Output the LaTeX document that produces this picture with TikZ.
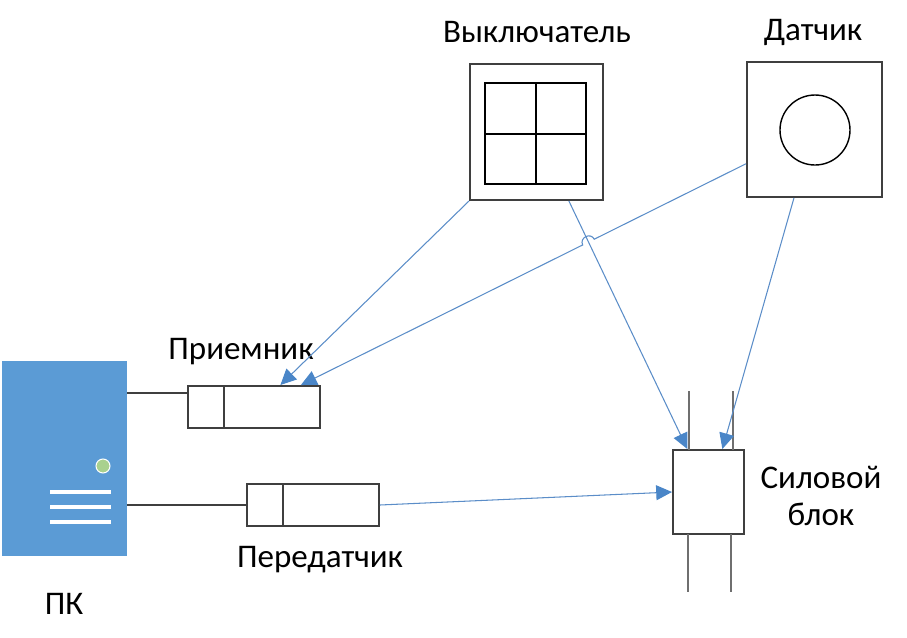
\documentclass[tikz,border=0pt]{standalone}
\usepackage{fontspec}
\setmainfont{Carlito}
\usetikzlibrary{arrows.meta,calc}
\definecolor{pcblue}{HTML}{5B9BD5}
\definecolor{conn}{HTML}{5B8DC8}
\definecolor{headc}{HTML}{4A86C8}
\definecolor{outl}{HTML}{3F3F3F}
\definecolor{ledgreen}{HTML}{A9D18E}
\definecolor{wire}{HTML}{6F6F6F}
\tikzset{
  box/.style={draw=outl,line width=1.1pt,rectangle,inner sep=0pt,minimum width=#1},
  lbl/.style={font=\fontsize{18.8}{22}\selectfont,text=black,inner sep=0pt},
  cn/.style={draw=conn,line width=0.6pt,-{Triangle[length=9pt,width=8.5pt,color=headc]},fill=none},
  wr/.style={draw=wire,line width=1.1pt},
}
\begin{document}
\begin{tikzpicture}[x=0.02cm,y=-0.02cm]
\useasboundingbox (0,0) rectangle (907,637);
% PC
\node[fill=pcblue,minimum width=125*0.02cm,minimum height=195*0.02cm,inner sep=0pt] (pc) at (64.5,458.5) {};
\node[circle,fill=ledgreen,draw=white,line width=0.6pt,minimum size=14*0.02cm,inner sep=0pt] (led) at (103,466) {};
\foreach \yy in {492,507,522} \draw[white,line width=2.3pt] (50,\yy) -- (111,\yy);
\node[lbl] (pcl) at (64,604) {ПК};
% receiver
\node[box=132*0.02cm,minimum height=42*0.02cm] (rx) at (254,407) {};
\draw[outl,line width=1.1pt] (224,386) -- (224,428);
\node[lbl] (rxl) at (241,352) {Приемник};
% transmitter
\node[box=132*0.02cm,minimum height=42*0.02cm] (tx) at (313,505) {};
\draw[outl,line width=1.1pt] (283,484) -- (283,526);
\node[lbl] (txl) at (320,560) {Передатчик};
% PC links
\coordinate (rxa) at (188,393);
\draw[outl,line width=0.8pt] (pc.east |- rxa) -- (rxa);
\draw[outl,line width=0.8pt] (pc.east |- tx.west) -- (tx.west);
% switch
\node[box=133*0.02cm,minimum height=136*0.02cm] (sw) at (536.5,132) {};
\draw[black,line width=1.1pt] (485,83) rectangle (586,184);
\draw[black,line width=1.1pt] (536,83) -- (536,184) (485,134) -- (586,134);
\node[lbl] (swl) at (537,32) {Выключатель};
% sensor
\node[box=135*0.02cm,minimum height=135*0.02cm] (sens) at (814.5,129.5) {};
\node[circle,draw=black,line width=0.8pt,minimum size=70*0.02cm,inner sep=0pt] (circ) at (815,130) {};
\node[lbl] (sensl) at (813,32) {Датчик};
% power block
\node[box=71*0.02cm,minimum height=84*0.02cm] (pw) at (708.5,492) {};
\draw[wr] (689,391) -- (689,450) (733,391) -- (733,450);
\draw[wr] (688,534) -- (688,592) (731,534) -- (731,592);
\node[lbl,align=center] (pwl) at (821,496) {Силовой\\[-1pt]блок};
% connectors
\coordinate (rx1) at ($(rx.north west)!0.697!(rx.north east)$);
\coordinate (rx2) at ($(rx.north west)!0.85!(rx.north east)$);
\coordinate (pw1) at ($(pw.north west)!0.21!(pw.north east)$);
\coordinate (pw2) at ($(pw.north west)!0.69!(pw.north east)$);
\coordinate (sw1) at ($(sw.south west)!0.74!(sw.south east)$);
\coordinate (se1) at ($(sens.north west)!0.75!(sens.south west)$);
\coordinate (se2) at ($(sens.south west)!0.35!(sens.south east)$);
\draw[cn] (sw.south west) -- (rx1);
\draw[cn] (sw1) -- (pw1);
\draw[cn] (se2) -- (pw2);
\draw[cn] (tx.east) -- (pw.west);
\coordinate (hA) at ($(se1)!0.341!(rx2)$);
\coordinate (hB) at ($(se1)!0.367!(rx2)$);
\draw[cn] (se1) -- (hA) to[out=116,in=116,looseness=1.6] (hB) -- (rx2);
\end{tikzpicture}
\end{document}
